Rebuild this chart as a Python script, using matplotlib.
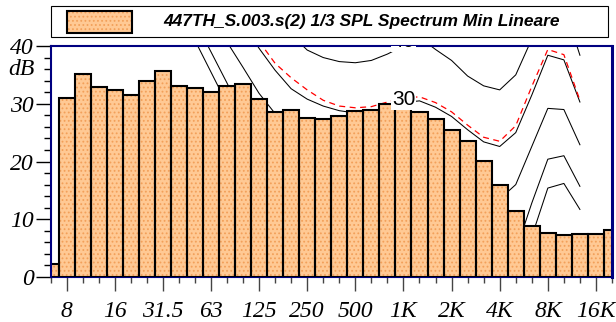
import numpy as np
import matplotlib
matplotlib.use('Agg')
import matplotlib.pyplot as plt
from matplotlib.patches import Rectangle
from matplotlib.ticker import FixedLocator, MultipleLocator
from matplotlib.font_manager import FontProperties

# 1/3 octave bands shown on the x axis
bands = ['6.3', '8', '10', '12.5', '16', '20', '25', '31.5', '40', '50', '63', '80',
         '100', '125', '160', '200', '250', '315', '400', '500', '630', '800', '1K',
         '1.25K', '1.6K', '2K', '2.5K', '3.15K', '4K', '5K', '6.3K', '8K', '10K',
         '12.5K', '16K', '20K']
levels = [2.2, 31.0, 35.2, 32.9, 32.4, 31.6, 33.9, 35.6, 33.0, 32.8, 32.1, 33.1,
          33.4, 30.8, 28.5, 28.9, 27.5, 27.4, 27.8, 28.8, 29.0, 30.0, 29.3,
          28.6, 27.3, 25.5, 23.5, 20.1, 15.9, 11.4, 8.8, 7.7, 7.2,
          7.4, 7.4, 8.1]
tick_bands = ['8', '16', '31.5', '63', '125', '250', '500', '1K', '2K', '4K', '8K', '16K']
y_ticks = [0, 10, 20, 30, 40]

# iso-phon curves (value per band, starting at band index)
iso_a_start, iso_a = 9, [41.0, 35.5, 30.0]
iso_b_start, iso_b = 9, [44.4, 39.0, 33.6, 28.0]
iso_c_start, iso_c = 11, [40.7, 36.3, 31.8, 28.3, 25.0]
phon40_start, phon40 = 15, [42.0, 39.3, 38.0, 37.3, 37.1, 37.5, 38.6, 40.0, 41.5, 39.4,
                            37.5, 34.8, 33.1, 32.4, 35.0, 41.2, 48.0, 47.0, 38.4]
phon30_start, phon30 = 12, [44.0, 39.6, 35.8, 32.6, 30.8, 29.6, 28.8, 28.4, 28.6, 29.4,
                            30.2, 30.5, 29.4, 27.8, 25.5, 23.4, 22.6, 25.0, 31.5, 38.4,
                            37.6, 30.3]
red_start, red_curve = 13, [40.8, 37.0, 34.5, 32.4, 30.6, 29.6, 29.3, 29.5, 30.3, 31.0,
                            31.2, 30.2, 28.6, 26.3, 24.2, 23.5, 26.2, 33.0, 39.4, 38.5, 30.6]
phon20_start, phon20 = 28, [13.5, 16.0, 22.6, 29.2, 29.0, 22.9]
phon10_start, phon10 = 29, [4.5, 12.8, 20.4, 21.0, 15.7]
phon0_start, phon0 = 29, [2.5, 7.0, 15.4, 16.2, 11.7]

title = '447TH_S.003.s(2) 1/3 SPL Spectrum Min Lineare'

plt.rcParams['hatch.linewidth'] = 0.8
serif = FontProperties(family='Liberation Serif', style='italic', size=17)

W, H = 616, 322
fig = plt.figure(figsize=(W / 100, H / 100), dpi=100)
ax = fig.add_axes([50.5 / W, 1 - 277 / H, (612 - 50.5) / W, 231 / H])

fill = '#FFC994'
dots = '#F2A05A'

x = np.arange(len(bands))
ax.bar(x, levels, width=1.0, color=fill, edgecolor=dots, linewidth=0, hatch='....', zorder=2)
ax.bar(x, levels, width=1.0, fill=False, edgecolor='black', linewidth=1.5, zorder=2.2)

for start, vals in [(iso_a_start, iso_a), (iso_b_start, iso_b), (iso_c_start, iso_c),
                    (phon40_start, phon40), (phon30_start, phon30), (phon20_start, phon20),
                    (phon10_start, phon10), (phon0_start, phon0)]:
    ax.plot(np.arange(start, start + len(vals)), vals, color='black', lw=0.75, zorder=1)
ax.plot(np.arange(red_start, red_start + len(red_curve)), red_curve, color='red', lw=0.9,
        dashes=(4.8, 3.6), zorder=1.1)

for val in (30, 40):
    ax.text(bands.index('1K'), val - 0.2, str(val), ha='center', va='baseline', fontsize=15,
            family='Liberation Sans', zorder=5, clip_on=True,
            bbox=dict(facecolor='white', edgecolor='none', pad=0.5))

ax.set_xlim(0, len(bands) - 1)
ax.set_ylim(0, 40)
ax.xaxis.set_major_locator(FixedLocator([bands.index(b) for b in tick_bands]))
ax.set_xticklabels(tick_bands)
ax.xaxis.set_minor_locator(FixedLocator(list(x)))
ax.set_yticks(y_ticks)
ax.set_yticklabels([str(v) for v in y_ticks])
ax.yaxis.set_minor_locator(MultipleLocator(2))

ax.tick_params(axis='x', which='major', length=10, width=1, color='#444444', pad=7)
ax.tick_params(axis='x', which='minor', length=4.5, width=1, color='#444444')
ax.tick_params(axis='y', which='major', length=10.8, width=1, color='black', pad=1)
ax.tick_params(axis='y', which='minor', length=5, width=1, color='black')
for lbl in ax.get_xticklabels() + ax.get_yticklabels():
    lbl.set_fontproperties(serif)

ax.annotate('dB', xy=(0, 36), xycoords=('axes fraction', 'data'), xytext=(-11.5, 0),
            textcoords='offset points', ha='right', va='center', fontproperties=serif)

for side, lw in [('left', 1.5), ('top', 1.5), ('right', 2.2), ('bottom', 0.8)]:
    ax.spines[side].set_color('#000080')
    ax.spines[side].set_linewidth(lw)

# legend box at the top
fig.add_artist(Rectangle((51 / W, 1 - 37 / H), (608 - 51) / W, 31 / H, transform=fig.transFigure,
                         facecolor='white', edgecolor='black', lw=0.8))
fig.add_artist(Rectangle((67 / W, 1 - 33 / H), 65 / W, 22 / H, transform=fig.transFigure,
                         facecolor=fill, edgecolor=dots, lw=0, hatch='....'))
fig.add_artist(Rectangle((67 / W, 1 - 33 / H), 65 / W, 22 / H, transform=fig.transFigure,
                         fill=False, edgecolor='black', lw=1.5))
fig.text(163 / W, 1 - 21.5 / H, title, fontsize=12.5, fontweight='bold', fontstyle='italic',
         family='Liberation Sans', ha='left', va='center')

fig.savefig('out.png', dpi=100)
